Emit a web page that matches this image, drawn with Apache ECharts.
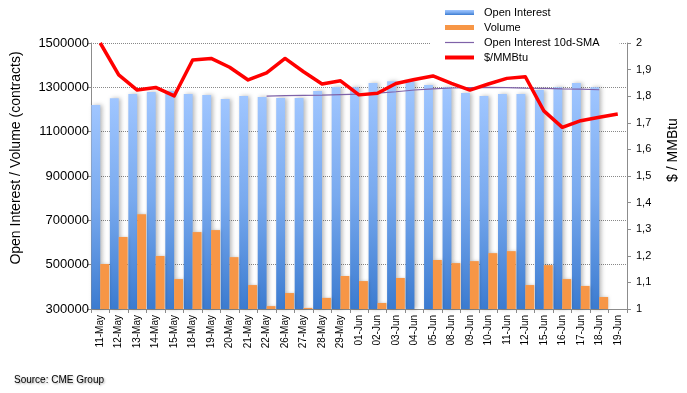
<!DOCTYPE html>
<html><head><meta charset="utf-8">
<script src="https://cdn.jsdelivr.net/npm/echarts@6/dist/echarts.min.js"></script>
<style>html,body{margin:0;padding:0;background:#fff}#c{width:687px;height:393px}</style>
</head><body><div id="c"></div>
<script>
const categories = ['11-May','12-May','13-May','14-May','15-May','18-May','19-May','20-May','21-May','22-May','26-May','27-May','28-May','29-May','01-Jun','02-Jun','03-Jun','04-Jun','05-Jun','08-Jun','09-Jun','10-Jun','11-Jun','12-Jun','15-Jun','16-Jun','17-Jun','18-Jun','19-Jun'];
const openInterest = [1220000,1251000,1270000,1279000,1283000,1270000,1265000,1247000,1261000,1256000,1252000,1252000,1283000,1301000,1300000,1319000,1328000,1328000,1310000,1300000,1274000,1261000,1270000,1270000,1288000,1300000,1319000,1300000,null];
const volume = [503000,625000,728000,539000,435000,647000,656000,534000,408000,313000,372000,305000,350000,449000,426000,327000,440000,null,521000,507000,516000,552000,561000,408000,498000,435000,404000,354000,null];
const oiSma10 = [null,null,null,null,null,null,null,null,null,1260000,1263000,1264000,1265000,1267000,1269000,1274000,1280000,1288000,1293000,1297000,1299000,1300000,1299000,1296000,1295000,1293000,1292000,1289000,null];
const price = [2.0,1.88,1.823,1.833,1.801,1.936,1.942,1.909,1.861,1.888,1.942,1.892,1.846,1.858,1.805,1.811,1.848,1.863,1.876,1.848,1.823,1.846,1.867,1.873,1.745,1.683,1.708,1.721,1.733];

const FONT = "'Liberation Sans', Arial, sans-serif";
const chart = echarts.init(document.getElementById('c'), null, {renderer: 'canvas'});
const axisGray = '#8c8c8c';
chart.setOption({
  animation: false,
  backgroundColor: '#fff',
  textStyle: {fontFamily: FONT},
  grid: {left: 91, right: 60, top: 43, bottom: 84, containLabel: false},
  legend: {
    orient: 'vertical', left: 430, top: 1,
    padding: [4, 20, 6, 13], itemGap: 0, itemWidth: 29, itemHeight: 5,
    backgroundColor: '#fff',
    textStyle: {fontSize: 11, color: '#000', lineHeight: 15, fontFamily: FONT, padding: [0, 0, 0, 5]},
    data: [
      {name: 'Open Interest', icon: 'rect'},
      {name: 'Volume', icon: 'rect'},
      {name: 'Open Interest 10d-SMA', itemStyle: {opacity: 0}, lineStyle: {width: 1.2}},
      {name: '$/MMBtu', itemStyle: {opacity: 0}, lineStyle: {width: 4}}
    ]
  },
  xAxis: {
    type: 'category', data: categories, boundaryGap: true,
    axisLine: {lineStyle: {color: axisGray, width: 1}},
    axisTick: {show: true, length: 4, lineStyle: {color: axisGray}},
    axisLabel: {rotate: 90, fontSize: 10, color: '#000', margin: 6, interval: 0, fontFamily: FONT},
    splitLine: {show: false}
  },
  yAxis: [
    {
      type: 'value', min: 300000, max: 1500000, interval: 200000, position: 'left',
      axisLine: {show: true, lineStyle: {color: axisGray}},
      axisTick: {show: true, length: 4, lineStyle: {color: axisGray}},
      axisLabel: {fontSize: 13, color: '#000', margin: 2, fontFamily: FONT, formatter: v => String(v)},
      splitLine: {show: true, lineStyle: {type: 'dotted', color: '#888', width: 1}}
    },
    {
      type: 'value', min: 1, max: 2, interval: 0.1, position: 'right',
      axisLine: {show: true, lineStyle: {color: axisGray}},
      axisTick: {show: true, length: 4, lineStyle: {color: axisGray}},
      axisLabel: {fontSize: 11, color: '#000', margin: 9, fontFamily: FONT,
        formatter: v => Math.abs(v - Math.round(v)) < 1e-9 ? String(Math.round(v)) : v.toFixed(1).replace('.', ',')},
      splitLine: {show: false}
    }
  ],
  graphic: [
    {type: 'text', x: 16, y: 158, rotation: Math.PI / 2,
      style: {text: 'Open Interest / Volume (contracts)', font: '14px ' + FONT, fill: '#000', textAlign: 'center', textVerticalAlign: 'middle'}},
    {type: 'text', x: 673, y: 150, rotation: Math.PI / 2,
      style: {text: '$ / MMBtu', font: '14px ' + FONT, fill: '#000', textAlign: 'center', textVerticalAlign: 'middle'}},
    {type: 'text', x: 14, y: 380,
      style: {text: 'Source: CME Group', font: '10px ' + FONT, fill: '#000', textVerticalAlign: 'middle',
        textShadowColor: 'rgba(0,0,0,0.35)', textShadowBlur: 2, textShadowOffsetX: 1, textShadowOffsetY: 1}}
  ],
  series: [
    {
      name: 'Open Interest', type: 'bar', yAxisIndex: 0, data: openInterest,
      barGap: '0%', barCategoryGap: '4%',
      itemStyle: {
        color: new echarts.graphic.LinearGradient(0, 0, 0, 1, [
          {offset: 0, color: '#a0c6ff'}, {offset: 0.5, color: '#78a9ee'}, {offset: 1, color: '#3b7bd0'}]),
        shadowColor: 'rgba(0,0,0,0.28)', shadowBlur: 4, shadowOffsetX: 2, shadowOffsetY: 0
      }
    },
    {
      name: 'Volume', type: 'bar', yAxisIndex: 0, data: volume,
      barGap: '0%', barCategoryGap: '4%',
      itemStyle: {color: '#f79646', shadowColor: 'rgba(0,0,0,0.2)', shadowBlur: 3, shadowOffsetX: 1}
    },
    {
      name: 'Open Interest 10d-SMA', type: 'line', yAxisIndex: 0, data: oiSma10,
      symbol: 'none', smooth: false, z: 4,
      lineStyle: {color: '#7f62a8', width: 1.2}, itemStyle: {color: '#7f62a8'}
    },
    {
      name: '$/MMBtu', type: 'line', yAxisIndex: 1, data: price,
      symbol: 'none', smooth: false, z: 5,
      lineStyle: {color: '#ff0000', width: 3.5, join: 'round'}, itemStyle: {color: '#ff0000'}
    }
  ]
});
</script>
</body></html>
